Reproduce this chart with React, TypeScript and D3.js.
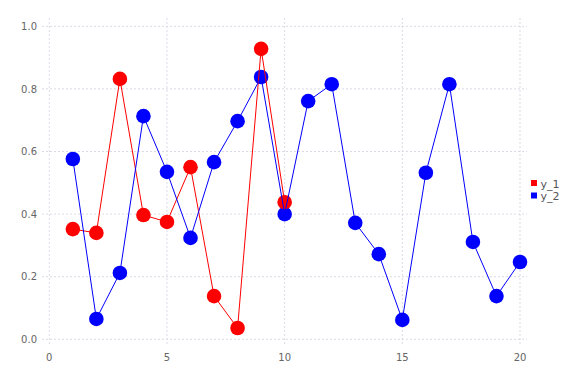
import React from "react";
import * as d3 from "d3";

const xs1 = [1, 2, 3, 4, 5, 6, 7, 8, 9, 10];
const y1 = [0.352, 0.34, 0.832, 0.397, 0.375, 0.55, 0.138, 0.036, 0.928, 0.438];
const xs2 = [1, 2, 3, 4, 5, 6, 7, 8, 9, 10, 11, 12, 13, 14, 15, 16, 17, 18, 19, 20];
const y2 = [0.576, 0.065, 0.212, 0.713, 0.535, 0.324, 0.566, 0.697, 0.838, 0.4, 0.761, 0.815, 0.372, 0.272, 0.062, 0.532, 0.815, 0.311, 0.138, 0.247];
const xTicks = [0, 5, 10, 15, 20];
const yTicks = [0, 0.2, 0.4, 0.6, 0.8, 1.0];
const seriesNames = ["y_1", "y_2"];
const seriesColors = ["#ff0000", "#0000ff"];

export default function App() {
  const W = 576, H = 384;
  const left = 42, right = 527, top = 18, bottom = 346;
  const x = d3.scaleLinear().domain([0, 20]).range([49.3, 520]);
  const y = d3.scaleLinear().domain([0, 1]).range([339.3, 26.3]);
  const s1 = xs1.map((v, i) => [v, y1[i]] as [number, number]);
  const s2 = xs2.map((v, i) => [v, y2[i]] as [number, number]);
  const line = d3.line<[number, number]>().x(d => x(d[0])).y(d => y(d[1]));
  const gridColor = "#dadae6";
  const font = "DejaVu Sans";
  return (
    <svg width={W} height={H} style={{ position: "absolute", left: 0, top: 0, background: "#fff" }}>
      <g>
        {xTicks.map(t => (
          <line key={"gx" + t} x1={x(t)} x2={x(t)} y1={top} y2={bottom} stroke={gridColor} strokeWidth={1} strokeDasharray="2,2" />
        ))}
        {yTicks.map(t => (
          <line key={"gy" + t} x1={left} x2={right} y1={y(t)} y2={y(t)} stroke={gridColor} strokeWidth={1} strokeDasharray="2,2" />
        ))}
      </g>
      <g fontFamily={font} fontSize={10} fill="#666">
        {xTicks.map(t => (
          <text key={"tx" + t} x={x(t)} y={361} textAnchor="middle">{t}</text>
        ))}
        {yTicks.map(t => (
          <text key={"ty" + t} x={37} y={y(t) + 3.6} textAnchor="end">{t.toFixed(1)}</text>
        ))}
      </g>
      <g>
        {s2.map((d, i) => (
          <circle key={"c2" + i} cx={x(d[0])} cy={y(d[1])} r={7.3} fill={seriesColors[1]} />
        ))}
        {s1.map((d, i) => (
          <circle key={"c1" + i} cx={x(d[0])} cy={y(d[1])} r={7.3} fill={seriesColors[0]} />
        ))}
        <path d={line(s1) || ""} fill="none" stroke={seriesColors[0]} strokeWidth={1} />
        <path d={line(s2) || ""} fill="none" stroke={seriesColors[1]} strokeWidth={1} />
      </g>
      <g fontFamily={font} fontSize={11} fill="#555">
        {seriesNames.map((n, i) => (
          <g key={n}>
            <rect x={531} y={180 + i * 12.5} width={6} height={6} fill={seriesColors[i]} />
            <text x={540.5} y={187.5 + i * 12.5}>{n}</text>
          </g>
        ))}
      </g>
    </svg>
  );
}
